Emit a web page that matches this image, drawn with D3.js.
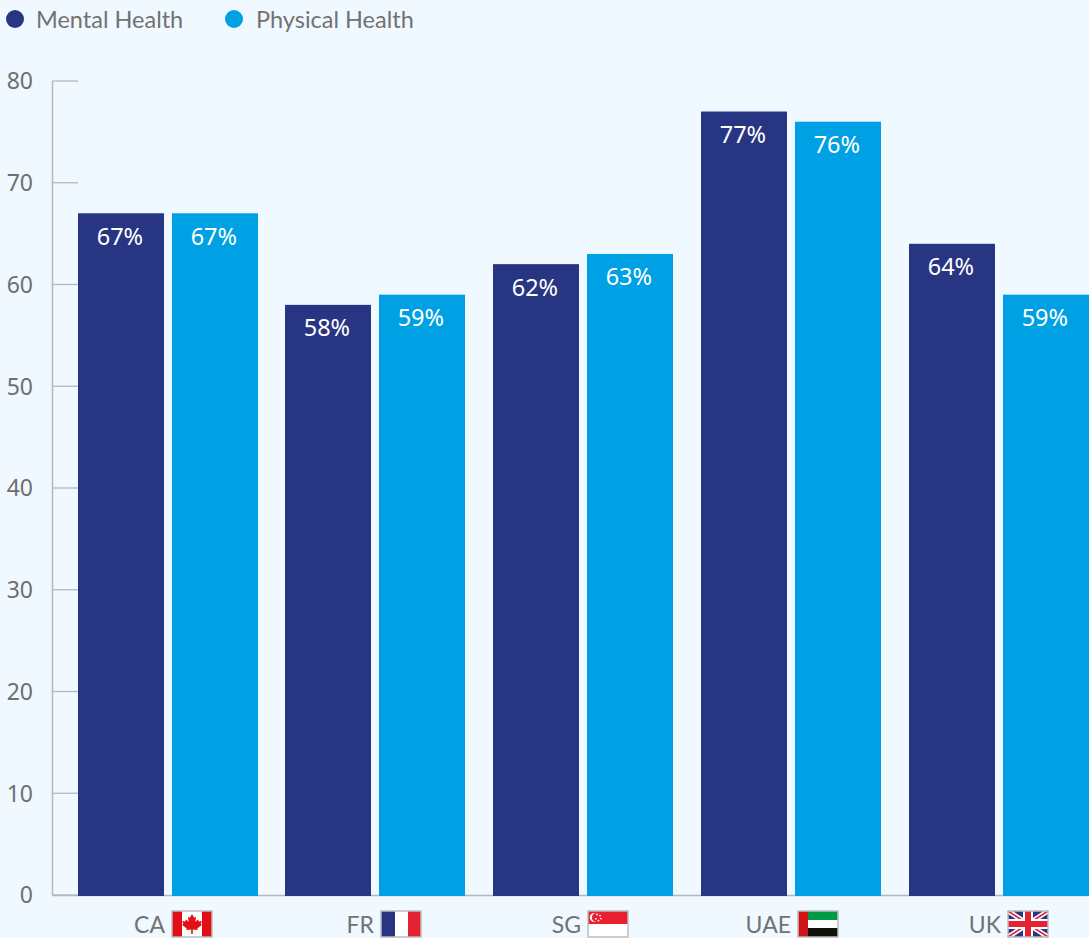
<!DOCTYPE html>
<meta charset="utf-8">
<style>
  html, body { margin: 0; padding: 0; background: #f0f9ff; overflow: hidden; }
  text { font-family: Lato, sans-serif; }
</style>
<script src="https://d3js.org/d3.v7.min.js"></script>
<div id="chart"></div>
<script>
    // data
    const countries = ["CA", "FR", "SG", "UAE", "UK"];
    const seriesNames = ["Mental Health", "Physical Health"];
    const mentalHealth = [67, 58, 62, 77, 64];
    const physicalHealth = [67, 59, 63, 76, 59];
    const yTicks = [0, 10, 20, 30, 40, 50, 60, 70, 80];
    const colors = ["#283583", "#00a1e4"];

    const width = 1089, height = 938;
    const axisX = 52, firstBar = 78, groupGap = 28;
    const numberFont = "'Noto Sans', sans-serif";

    const svg = d3.select("#chart").append("svg")
        .attr("width", width)
        .attr("height", height)
        .style("display", "block");

    // y axis
    const y = d3.scaleLinear().domain([0, 80]).range([895, 81]);

    // x axis: one band per country, one sub band per series
    const x = d3.scaleBand()
        .domain(countries)
        .range([firstBar - groupGap / 2, width + groupGap / 2])
        .paddingInner(groupGap / 208)
        .paddingOuter(groupGap / 2 / 208);
    const xSub = d3.scaleBand()
        .domain(seriesNames)
        .range([0, x.bandwidth()])
        .paddingInner(8 / 94);

    const yAxis = svg.append("g")
        .attr("transform", `translate(${axisX},0)`)
        .call(d3.axisRight(y).tickValues(yTicks).tickSize(firstBar - axisX).tickPadding(0).offset(0));
    yAxis.select(".domain").attr("d", `M0.5,${y(80)}V${y(0)}`).attr("stroke", "#b8b8b8").attr("stroke-width", 1.5);
    yAxis.selectAll(".tick line").attr("stroke", "#b8b8b8").attr("stroke-width", 1.3);
    yAxis.selectAll(".tick text")
        .attr("x", -19)
        .attr("dy", "0.36em")
        .attr("text-anchor", "end")
        .attr("fill", "#6f6f6f")
        .attr("font-size", 23)
        .style("font-family", numberFont);

    // baseline
    svg.append("line")
        .attr("x1", axisX).attr("x2", width)
        .attr("y1", y(0) + 0.5).attr("y2", y(0) + 0.5)
        .attr("stroke", "#b8b8b8")
        .attr("stroke-width", 1.3);

    // bars and value labels, groups snapped to whole pixels so the edges stay crisp
    const rows = countries.map((c, i) => ({country: c, values: [mentalHealth[i], physicalHealth[i]]}));
    const groups = svg.selectAll(".group")
        .data(rows)
        .join("g")
        .attr("class", "group")
        .attr("transform", d => `translate(${Math.floor(x(d.country) + 0.1)},0)`);

    groups.selectAll("rect")
        .data(d => d.values.map((v, i) => ({name: seriesNames[i], value: v, color: colors[i]})))
        .join("rect")
        .attr("x", d => Math.round(xSub(d.name)))
        .attr("y", d => y(d.value))
        .attr("width", Math.round(xSub.bandwidth()))
        .attr("height", d => y(0) - y(d.value) + 1)
        .attr("fill", d => d.color);

    groups.selectAll("text")
        .data(d => d.values.map((v, i) => ({name: seriesNames[i], value: v})))
        .join("text")
        .attr("x", d => xSub(d.name) + xSub.bandwidth() / 2 - 1)
        .attr("y", d => y(d.value) + 31.5)
        .attr("text-anchor", "middle")
        .attr("fill", "#ffffff")
        .attr("font-size", 23.5)
        .style("font-family", numberFont)
        .text(d => d.value + "%");

    // legend
    const legendX = [15, 234];
    seriesNames.forEach((name, i) => {
        svg.append("circle")
            .attr("cx", legendX[i]).attr("cy", 19).attr("r", 9)
            .attr("fill", colors[i]);
        svg.append("text")
            .attr("x", legendX[i] + (i ? 22 : 21)).attr("y", 28)
            .attr("fill", "#727272")
            .attr("font-size", 23.5)
            .text(name);
    });

    // flags, 40x26 drawn from the origin
    const flagW = 40, flagH = 26;
    function stripes(g, list) {
        list.forEach(s => g.append("rect")
            .attr("x", s[0]).attr("y", s[1]).attr("width", s[2]).attr("height", s[3]).attr("fill", s[4]));
    }
    const flags = {
        CA: g => {
            stripes(g, [[0, 0, 40, 26, "#ffffff"], [0, 0, 10, 26, "#e30f17"], [30, 0, 10, 26, "#e30f17"]]);
            g.append("path").attr("fill", "#e30f17")
                .attr("d", "M20 3l2.2 3.8 1.8-1-.6 5 2.6-2.2.8 1.8 3-.5-1 3.2 1.2.7-4.7 3.6.5 1.7-5-.7V23h-1.6v-4.6l-5 .7.5-1.7-4.7-3.6 1.2-.7-1-3.2 3 .5.8-1.8 2.6 2.2-.6-5 1.8 1z");
        },
        FR: g => stripes(g, [[0, 0, 14, 26, "#283583"], [14, 0, 13, 26, "#ffffff"], [27, 0, 13, 26, "#e52233"]]),
        SG: g => {
            stripes(g, [[0, 0, 40, 13, "#e8202f"], [0, 13, 40, 13, "#ffffff"]]);
            g.append("circle").attr("cx", 6.5).attr("cy", 6.5).attr("r", 4.6).attr("fill", "#ffffff");
            g.append("circle").attr("cx", 8.2).attr("cy", 6.5).attr("r", 4.4).attr("fill", "#e8202f");
            [[9, 3.4], [12, 4.6], [13, 7.6], [10.5, 9.6], [7.8, 7.8]].forEach(p =>
                g.append("circle").attr("cx", p[0]).attr("cy", p[1]).attr("r", 0.9).attr("fill", "#ffffff"));
        },
        UAE: g => stripes(g, [[10, 0, 30, 9, "#009a44"], [10, 9, 30, 8, "#ffffff"], [10, 17, 30, 9, "#12100b"], [0, 0, 10, 26, "#cf1518"]]),
        UK: g => {
            stripes(g, [[0, 0, 40, 26, "#283583"]]);
            const d1 = "M0 0L40 26M40 0L0 26";
            g.append("path").attr("d", d1).attr("stroke", "#ffffff").attr("stroke-width", 5);
            g.append("path").attr("d", d1).attr("stroke", "#e52233").attr("stroke-width", 1.6);
            stripes(g, [[15, 0, 10, 26, "#ffffff"], [0, 8, 40, 10, "#ffffff"], [17, 0, 6, 26, "#e52233"], [0, 10, 40, 6, "#e52233"]]);
        }
    };

    // country labels with their flags, under the second bar of each group
    const flagOffset = [0, 1.2, 0.4, 2.6, 4.8];
    countries.forEach((c, i) => {
        const fx = Math.round(x(c) + xSub(seriesNames[1]) + flagOffset[i]);
        const g = svg.append("g").attr("transform", `translate(${fx},911)`);
        flags[c](g);
        g.append("rect")
            .attr("x", 0).attr("y", 0).attr("width", flagW).attr("height", flagH)
            .attr("fill", "none").attr("stroke", "#bdbdbd").attr("stroke-width", 1.5);
        svg.append("text")
            .attr("x", fx - 7).attr("y", 933)
            .attr("text-anchor", "end")
            .attr("fill", "#727272")
            .attr("font-size", 23)
            .text(c);
    });
</script>
